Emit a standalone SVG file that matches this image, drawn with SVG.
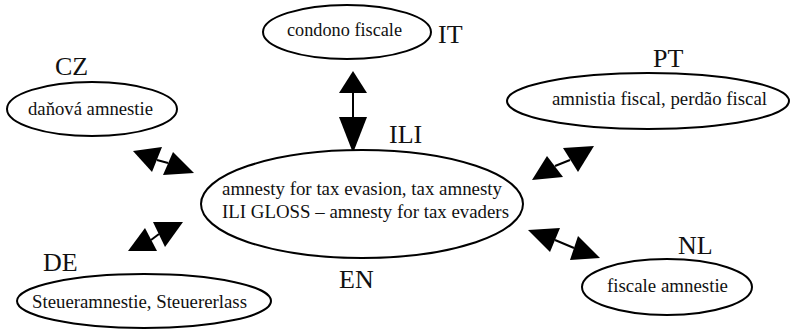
<svg xmlns="http://www.w3.org/2000/svg" width="793" height="330" viewBox="0 0 793 330">
<style>
.node ellipse{fill:#fff;stroke:#000;stroke-width:2}
.t{font-family:"Liberation Serif","Times New Roman","DejaVu Serif",serif;font-size:19px;fill:#111}
.lbl{font-family:"Liberation Serif","Times New Roman","DejaVu Serif",serif;font-size:26px;fill:#111}
.conn line{stroke:#000;stroke-width:2}
.conn polygon{fill:#000}
</style>
<rect width="793" height="330" fill="#fff"/>
<g id="connectors" class="conn">
<g id="c-it">
<polygon points="353,71 339,93 367,93"/>
<line x1="353" y1="93" x2="353" y2="117"/>
<polygon points="339,117 367,117 353,153"/>
</g>
<g id="c-cz">
<polygon points="133,151 162,147 152,172"/>
<line x1="157" y1="160" x2="168" y2="163"/>
<polygon points="173,152 163,175 194,173"/>
</g>
<g id="c-pt">
<polygon points="532,180 547,156 563,177"/>
<line x1="555" y1="166" x2="570" y2="160"/>
<polygon points="563,148 594,146 578,172"/>
</g>
<g id="c-de">
<polygon points="128,251 145,228 157,251"/>
<line x1="151" y1="240" x2="159" y2="234"/>
<polygon points="153,222 183,222 165,247"/>
</g>
<g id="c-nl">
<polygon points="528,230 560,228 550,252"/>
<line x1="555" y1="240" x2="574" y2="248"/>
<polygon points="578,236 600,258 570,260"/>
</g>
</g>
<g id="node-it" class="node">
<ellipse cx="347" cy="32" rx="84" ry="27"/>
<text class="t" x="287" y="36" textLength="115" lengthAdjust="spacingAndGlyphs">condono fiscale</text>
<text class="lbl" x="438" y="43">IT</text>
</g>
<g id="node-cz" class="node">
<ellipse cx="92" cy="109" rx="85" ry="27"/>
<text class="t" x="28" y="115" textLength="125" lengthAdjust="spacingAndGlyphs">daňová amnestie</text>
<text class="lbl" x="55" y="75">CZ</text>
</g>
<g id="node-pt" class="node">
<ellipse cx="648" cy="101" rx="141" ry="28"/>
<text class="t" x="552" y="105" textLength="215" lengthAdjust="spacingAndGlyphs">amnistia fiscal, perdão fiscal</text>
<text class="lbl" x="653" y="67">PT</text>
</g>
<g id="node-en" class="node">
<ellipse cx="362" cy="204" rx="161" ry="54"/>
<text class="t" x="222" y="195" textLength="280" lengthAdjust="spacingAndGlyphs">amnesty for tax evasion, tax amnesty</text>
<text class="t" x="222" y="218" textLength="287" lengthAdjust="spacingAndGlyphs">ILI GLOSS – amnesty for tax evaders</text>
<text class="lbl" x="389" y="143">ILI</text>
<text class="lbl" x="339" y="288">EN</text>
</g>
<g id="node-de" class="node">
<ellipse cx="144" cy="301" rx="127" ry="27"/>
<text class="t" x="32" y="308" textLength="215" lengthAdjust="spacingAndGlyphs">Steueramnestie, Steuererlass</text>
<text class="lbl" x="43" y="271">DE</text>
</g>
<g id="node-nl" class="node">
<ellipse cx="667" cy="287" rx="85" ry="28"/>
<text class="t" x="607" y="292" textLength="121" lengthAdjust="spacingAndGlyphs">fiscale amnestie</text>
<text class="lbl" x="678" y="254">NL</text>
</g>
</svg>
